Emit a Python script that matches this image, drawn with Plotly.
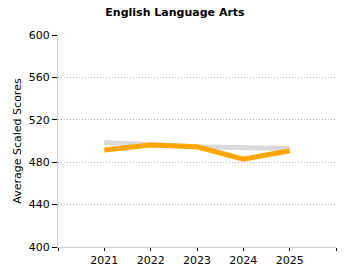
import plotly.graph_objects as go

years = [2021, 2022, 2023, 2024, 2025]
state_scores = [498.5, 496, 494.5, 493.7, 493]
school_scores = [491.5, 496.3, 494.6, 482.8, 490.8]
y_ticks = [400, 440, 480, 520, 560, 600]

fig = go.Figure()
fig.add_trace(go.Scatter(x=years, y=state_scores, mode="lines",
                         line=dict(color="#d9d9d9", width=5), showlegend=False))
fig.add_trace(go.Scatter(x=years, y=school_scores, mode="lines",
                         line=dict(color="#FFA500", width=5), showlegend=False))

font = "DejaVu Sans, Verdana, sans-serif"
fig.update_layout(
    width=350, height=280,
    margin=dict(l=58, r=14, t=35, b=33),
    paper_bgcolor="white", plot_bgcolor="white",
    title=dict(text="<b>English Language Arts</b>", x=0.5, xanchor="center",
               y=0.955, yanchor="middle",
               font=dict(family=font, size=11, color="black")),
    font=dict(family=font, size=11, color="black"),
)
fig.update_xaxes(
    range=[2020, 2026],
    tickvals=[2020] + years + [2026],
    ticktext=[""] + [str(y) for y in years] + [""],
    ticks="outside", ticklen=3, tickcolor="black",
    showline=True, linecolor="#cccccc", linewidth=1,
    showgrid=False, zeroline=False,
    tickfont=dict(family=font, size=11, color="black"),
)
fig.update_yaxes(
    range=[400, 600],
    tickvals=y_ticks,
    ticks="outside", ticklen=5, tickcolor="black",
    showline=True, linecolor="#cccccc", linewidth=1,
    showgrid=True, gridcolor="#b0b0b0", griddash="1px,2px", gridwidth=1,
    zeroline=False,
    title=dict(text="Average Scaled Scores", standoff=4,
               font=dict(family=font, size=11, color="black")),
    tickfont=dict(family=font, size=11, color="black"),
)

fig.write_html("out.html")
